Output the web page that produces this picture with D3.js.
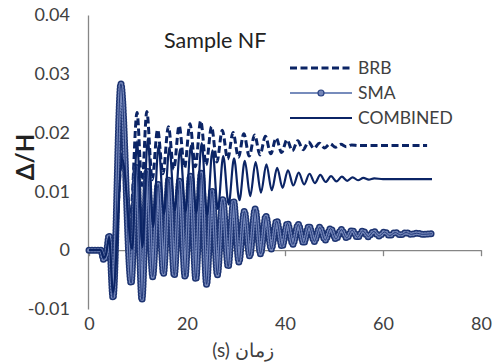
<!DOCTYPE html>
<html>
<head>
<meta charset="utf-8">
<script src="https://cdn.jsdelivr.net/npm/d3@7"></script>
<style>
  body { margin: 0; background: #fff; }
  svg text { font-family: Lato, "Open Sans", sans-serif; fill: #404040; }
</style>
</head>
<body>
<svg id="chart" width="494" height="362"></svg>
<script>
// time (s), drift ratio -- peaks and troughs
const brbData = [
  [0,0],[2.4,0],[3.0,-0.0010],[3.5,-0.0004],[4.1,0.0020],[4.9,-0.0060],[6.8,0.0165],
  [8.5,0.0060],[9.8,0.0234],[10.8,0.0110],[11.8,0.0236],[12.9,0.0120],[14.0,0.0205],[15.1,0.0130],
  [16.2,0.0210],[17.3,0.0138],[18.4,0.0212],[19.5,0.0140],[20.6,0.0215],[21.7,0.0142],[22.8,0.0220],
  [23.9,0.0145],[25.0,0.0210],[26.1,0.0150],[27.2,0.0204],[28.3,0.0155],[29.4,0.0200],[30.5,0.0158],
  [31.6,0.0198],[32.7,0.0160],[33.8,0.0196],[34.9,0.0162],[36.0,0.0194],[37.1,0.0164],[38.2,0.0191],
  [39.3,0.0166],[40.4,0.0188],[41.5,0.0169],[42.6,0.0186],[43.7,0.0171],[44.8,0.0184],[45.9,0.0173],
  [47.0,0.0182],[48.1,0.0174],[49.2,0.0181],[50.3,0.0175],[51.4,0.0180],[52.5,0.0176],[53.6,0.0179],
  [55.0,0.0178],[69.0,0.0178]
];
const smaData = [
  [0,0],[2.4,0],[3.0,-0.0016],[3.5,-0.0008],[4.1,0.0025],[4.9,-0.0081],[6.5,0.0283],[8.6,-0.0056],
  [9.7,0.0142],[10.8,-0.0084],[11.9,0.0135],[13.0,-0.0045],[14.1,0.0112],[15.2,-0.0040],[16.3,0.0121],
  [17.4,-0.0043],[18.5,0.0118],[19.6,-0.0045],[20.7,0.0126],[21.8,-0.0050],[22.9,0.0131],[24.0,-0.0058],
  [25.1,0.0102],[26.2,-0.0042],[27.3,0.0086],[28.4,-0.0028],[29.5,0.0084],[30.6,-0.0020],[31.7,0.0066],
  [32.8,-0.0010],[33.9,0.0070],[35.0,-0.0006],[36.1,0.0058],[37.2,0.0002],[38.3,0.0050],[39.4,0.0006],
  [40.5,0.0046],[41.6,0.0010],[42.7,0.0044],[43.8,0.0012],[44.9,0.0041],[46.0,0.0015],[47.1,0.0039],
  [48.2,0.0017],[49.3,0.0037],[50.4,0.0019],[51.5,0.0035],[52.6,0.0021],[53.7,0.0034],[54.8,0.0022],
  [55.9,0.0033],[57.0,0.0023],[58.1,0.0032],[59.2,0.0024],[60.3,0.0031],[61.4,0.0025],[62.5,0.0030],
  [63.6,0.0026],[64.7,0.0030],[65.8,0.0027],[66.9,0.0029],[68.0,0.0027],[70.0,0.0028]
];
const combinedData = [
  [0,0],[2.4,0],[3.0,-0.0013],[3.5,-0.0006],[4.1,0.0022],[4.9,-0.0072],[6.8,0.0155],
  [8.8,0.0002],[9.8,0.0185],[10.9,0.0005],[12.0,0.0190],[13.1,0.0040],[14.2,0.0178],
  [15.3,0.0062],[16.4,0.0175],[17.5,0.0068],[18.6,0.0172],[19.7,0.0066],[20.8,0.0178],[21.9,0.0064],
  [23.0,0.0182],[24.1,0.0060],[25.2,0.0170],[26.3,0.0070],[27.4,0.0160],[28.5,0.0078],[29.6,0.0156],
  [30.7,0.0085],[31.8,0.0152],[32.9,0.0092],[34.0,0.0150],[35.1,0.0098],[36.2,0.0146],[37.3,0.0102],
  [38.4,0.0140],[39.5,0.0106],[40.6,0.0136],[41.7,0.0110],[42.8,0.0132],[43.9,0.0112],[45.0,0.0130],
  [46.1,0.0114],[47.2,0.0128],[48.3,0.0116],[49.4,0.0126],[50.5,0.0117],[51.6,0.0125],[52.7,0.0118],
  [53.8,0.0124],[54.9,0.0119],[56.0,0.0123],[57.1,0.0120],[58.2,0.0122],[60.0,0.0121],[70.0,0.0121]
];
const xTicks = [0, 20, 40, 60, 80];
const yTicks = [-0.01, 0, 0.01, 0.02, 0.03, 0.04];
const seriesNames = ["BRB", "SMA", "COMBINED"];

const navy = "#0b2465";
const svg = d3.select("#chart");

const x = d3.scaleLinear().domain([0, 80]).range([89, 481]);
const y = d3.scaleLinear().domain([-0.01, 0.04]).range([309, 15]);

// y axis: gray line, labels only
const yAxis = svg.append("g")
  .attr("transform", "translate(88,0)")
  .call(d3.axisLeft(y).tickValues(yTicks).tickSize(0).tickPadding(18)
    .tickFormat(d => d === 0 ? "0" : (d < 0 ? "-" : "") + Math.abs(d).toFixed(2)));
yAxis.select(".domain").attr("stroke", "#868686").attr("stroke-width", 1.3);
yAxis.selectAll("text").style("font-size", "18px");

// x axis line at zero with ticks
const xAxis = svg.append("g")
  .attr("transform", `translate(0,${y(0)})`)
  .call(d3.axisBottom(x).tickValues(xTicks).tickSize(6).tickSizeOuter(0).tickFormat(""));
xAxis.select(".domain").attr("stroke", "#868686").attr("stroke-width", 1.3);
xAxis.selectAll(".tick line").attr("stroke", "#868686").attr("stroke-width", 1.3);

// x labels at bottom
const xLab = svg.append("g")
  .attr("transform", "translate(0,309)")
  .call(d3.axisBottom(x).tickValues(xTicks).tickSize(0).tickPadding(8));
xLab.select(".domain").remove();
xLab.selectAll("text").style("font-size", "18px");

const line = d3.line().x(d => x(d[0])).y(d => y(d[1])).curve(d3.curveMonotoneX);

// BRB dashed
svg.append("path").datum(brbData)
  .attr("d", line).attr("fill", "none").attr("stroke", navy)
  .attr("stroke-width", 3).attr("stroke-dasharray", "7,3.5");

// SMA line with dense circle markers
svg.append("path").datum(smaData)
  .attr("d", line).attr("fill", "none").attr("stroke", "#1d3472")
  .attr("stroke-width", 7).attr("stroke-linecap", "round").attr("stroke-dasharray", "0,3");
svg.append("path").datum(smaData)
  .attr("d", line).attr("fill", "none").attr("stroke", "#7486b8")
  .attr("stroke-width", 4).attr("stroke-linecap", "round").attr("stroke-dasharray", "0,3");
svg.append("path").datum(smaData)
  .attr("d", line).attr("fill", "none").attr("stroke", "#22397a").attr("stroke-width", 1);

// COMBINED solid
svg.append("path").datum(combinedData)
  .attr("d", line).attr("fill", "none").attr("stroke", navy).attr("stroke-width", 2.2);

// legend
const legend = svg.append("g");
const legY = [68, 93, 118];
seriesNames.forEach((name, i) => {
  const ly = legY[i];
  const ln = legend.append("line").attr("x1", 290).attr("x2", 352).attr("y1", ly).attr("y2", ly);
  if (name === "BRB") ln.attr("stroke", navy).attr("stroke-width", 3).attr("stroke-dasharray", "7,3.5");
  else if (name === "SMA") {
    ln.attr("stroke", "#4a66a6").attr("stroke-width", 1.5);
    legend.append("circle").attr("cx", 321).attr("cy", ly).attr("r", 3)
      .attr("fill", "#7486b8").attr("stroke", "#2a4283").attr("stroke-width", 1.2);
  } else ln.attr("stroke", navy).attr("stroke-width", 2.2);
  legend.append("text").attr("x", 358).attr("y", ly + 6).style("font-size", "17.5px").text(name);
});

// titles
svg.append("text").attr("x", 164).attr("y", 48).style("font-size", "21.5px").style("fill", "#222").text("Sample NF");
svg.append("text")
  .attr("transform", "translate(34,157) rotate(-90)")
  .attr("text-anchor", "middle").style("font-size", "24px").style("font-weight", "bold")
  .style("fill", "#222").text("Δ/H");
svg.append("text").attr("x", 243).attr("y", 357).attr("text-anchor", "middle")
  .style("font-size", "19px").text("(s) زمان");
</script>
</body>
</html>
